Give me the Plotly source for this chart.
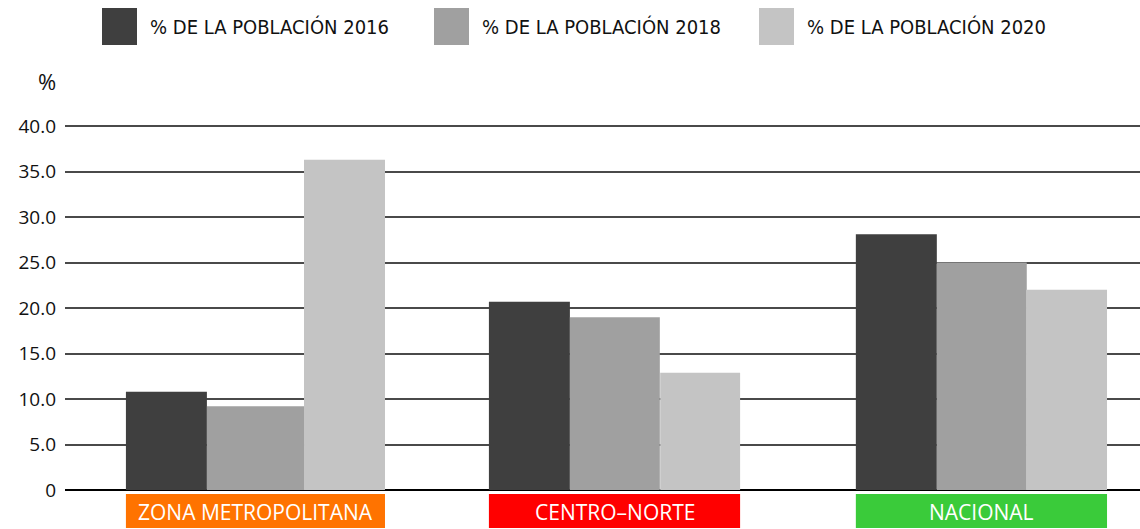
import plotly.graph_objects as go

# Data
categories = ["ZONA METROPOLITANA", "CENTRO–NORTE", "NACIONAL"]
series_names = ["% DE LA POBLACIÓN 2016", "% DE LA POBLACIÓN 2018", "% DE LA POBLACIÓN 2020"]
pct_2016 = [10.8, 20.7, 28.1]
pct_2018 = [9.2, 19.0, 25.0]
pct_2020 = [36.3, 12.9, 22.0]
y_ticks = [0, 5, 10, 15, 20, 25, 30, 35, 40]
y_tick_labels = ["0", "5.0", "10.0", "15.0", "20.0", "25.0", "30.0", "35.0", "40.0"]

# Styling
series_colors = ["#3f3f3f", "#a0a0a0", "#c4c4c4"]
category_colors = ["#ff7300", "#ff0000", "#3acb3a"]
# bar layout (offset from category centre, width) in category units
bar_offsets = [
    [-0.380, -0.367, -0.343],
    [-0.154, -0.141, -0.117],
    [0.117, 0.111, 0.132],
]
bar_widths = [
    [0.226, 0.226, 0.226],
    [0.271, 0.251, 0.251],
    [0.226, 0.223, 0.226],
]

W, H = 1140, 529
ML, MR, MT, MB = 65, 0, 117, 39
PW, PH = W - ML - MR, H - MT - MB


def px_x(px):
    return (px - ML) / PW


def px_y(py):
    return (H - MB - py) / PH


fig = go.Figure()
values = [pct_2016, pct_2018, pct_2020]
for k in range(3):
    fig.add_trace(go.Bar(
        x=categories,
        y=values[k],
        name=series_names[k],
        marker=dict(color=series_colors[k], line=dict(width=0)),
        offset=bar_offsets[k],
        width=bar_widths[k],
        showlegend=False,
    ))

shapes = []
annotations = []

# category label boxes under each group
for i, cat in enumerate(categories):
    x0 = i + bar_offsets[0][i]
    x1 = i + bar_offsets[2][i] + bar_widths[2][i]
    shapes.append(dict(type="rect", xref="x", yref="paper", x0=x0, x1=x1,
                       y0=px_y(528), y1=px_y(494), fillcolor=category_colors[i],
                       line=dict(width=0), layer="above"))
    annotations.append(dict(x=(x0 + x1) / 2, y=px_y(512), xref="x", yref="paper",
                            text=cat, showarrow=False, xanchor="center", yanchor="middle",
                            font=dict(family="Open Sans", size=21, color="white", weight=500)))

# legend swatches and labels
legend_x = [102, 434, 759]
for k in range(3):
    shapes.append(dict(type="rect", xref="paper", yref="paper",
                       x0=px_x(legend_x[k]), x1=px_x(legend_x[k] + 35),
                       y0=px_y(45), y1=px_y(8), fillcolor=series_colors[k],
                       line=dict(width=0)))
    annotations.append(dict(x=px_x(legend_x[k] + 46), y=px_y(27), xref="paper", yref="paper",
                            text=series_names[k], showarrow=False, xanchor="left", yanchor="middle",
                            font=dict(family="Liberation Sans Narrow, DejaVu Sans Condensed, Open Sans",
                                      size=20, color="#111111")))

# axis unit label
annotations.append(dict(x=px_x(47), y=px_y(81), xref="paper", yref="paper", text="%",
                        showarrow=False, xanchor="center", yanchor="middle",
                        font=dict(family="Open Sans", size=22, color="#111111")))

fig.update_layout(
    width=W, height=H,
    margin=dict(l=ML, r=MR, t=MT, b=MB, pad=0),
    paper_bgcolor="white", plot_bgcolor="white",
    barmode="overlay",
    shapes=shapes,
    annotations=annotations,
    xaxis=dict(range=[-0.55, 2.45], showticklabels=False, showgrid=False,
               zeroline=False, showline=False, fixedrange=True),
    yaxis=dict(range=[0, 41], tickvals=y_ticks, ticktext=y_tick_labels,
               showgrid=True, gridcolor="#4a4a4a", gridwidth=1.5,
               zeroline=True, zerolinecolor="#000000", zerolinewidth=1.5,
               showline=False, ticks="", ticklabelstandoff=8,
               tickfont=dict(family="Open Sans", size=19, color="#111111")),
    font=dict(family="Open Sans"),
)

fig.write_html("out.html")
